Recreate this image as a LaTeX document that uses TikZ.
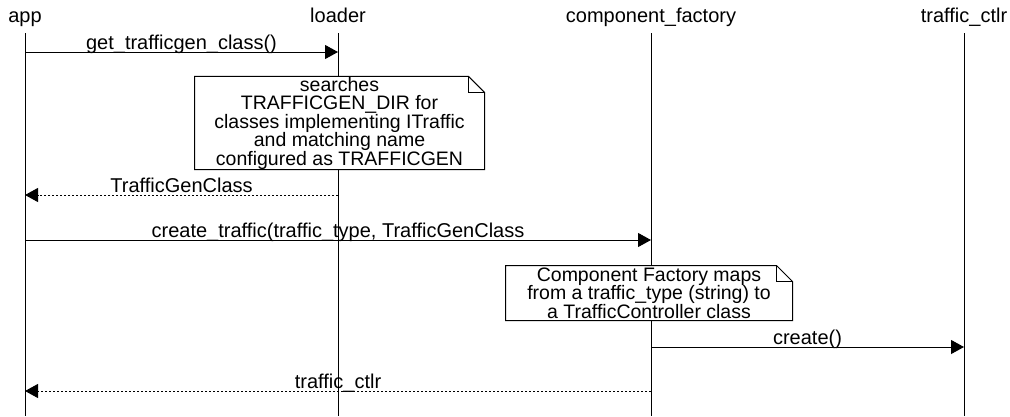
\documentclass[tikz,border=0pt]{standalone}
\usepackage{fontspec}
\setmainfont{Liberation Sans}
\usetikzlibrary{arrows.meta}

\begin{document}
\begin{tikzpicture}[x=1pt, y=-1pt, line width=1pt,
        font=\fontsize{20}{17.5}\selectfont,
        head/.style={anchor=base, inner sep=0pt},
        msg/.style={-{Triangle[length=13pt, width=14pt]}},
        reply/.style={msg, dash pattern=on 2pt off 2pt},
        lbl/.style={anchor=base, inner sep=0pt, yshift=3pt},
        note/.style={fill=white, inner sep=0pt, align=center,
            font=\fontsize{19.5}{18.5}\selectfont}]
        \useasboundingbox (0,0) rectangle (1010,416);

        % Entities
        \node[head] (app) at (25,22) {app};
        \node[head] (loader) at (338,22) {loader};
        \node[head] (factory) at (651,22) {component\_factory};
        \node[head] (ctlr) at (964,22) {traffic\_ctlr};

        % Lifelines
        \foreach \p in {app, loader, factory, ctlr} {
            \draw (\p |- 0,33) -- (\p |- 0,416);
        }

        % Message rows
        \foreach \r/\y in {1/52, 2/195, 3/240, 4/347, 5/391} {
            \coordinate (r\r) at (0,\y);
        }

        % Loader lookup
        \draw[msg] (app |- r1) -- (loader |- r1) node[lbl, midway] {get\_trafficgen\_class()};

        \node[note, minimum width=289pt, minimum height=90pt] (n1) at (339.5,123)
            {searches\\TRAFFICGEN\_DIR for\\classes implementing ITraffic\\and matching name\\configured as TRAFFICGEN};
        \draw (n1.north west) -- ([xshift=-16pt]n1.north east) -- ([yshift=-16pt]n1.north east)
            -- (n1.south east) -- (n1.south west) -- cycle;
        \draw ([xshift=-16pt]n1.north east) |- ([yshift=-16pt]n1.north east);

        \draw[reply] (loader |- r2) -- (app |- r2) node[lbl, midway] {TrafficGenClass};

        % Factory
        \draw[msg] (app |- r3) -- (factory |- r3) node[lbl, midway] {create\_traffic(traffic\_type, TrafficGenClass};

        \node[note, minimum width=286pt, minimum height=54pt] (n2) at (649,293)
            {Component Factory maps\\from a traffic\_type (string) to\\a TrafficController class};
        \draw (n2.north west) -- ([xshift=-16pt]n2.north east) -- ([yshift=-16pt]n2.north east)
            -- (n2.south east) -- (n2.south west) -- cycle;
        \draw ([xshift=-16pt]n2.north east) |- ([yshift=-16pt]n2.north east);

        \draw[msg] (factory |- r4) -- (ctlr |- r4) node[lbl, midway] {create()};
        \draw[reply] (factory |- r5) -- (app |- r5) node[lbl, midway] {traffic\_ctlr};

    \end{tikzpicture}
\end{document}
